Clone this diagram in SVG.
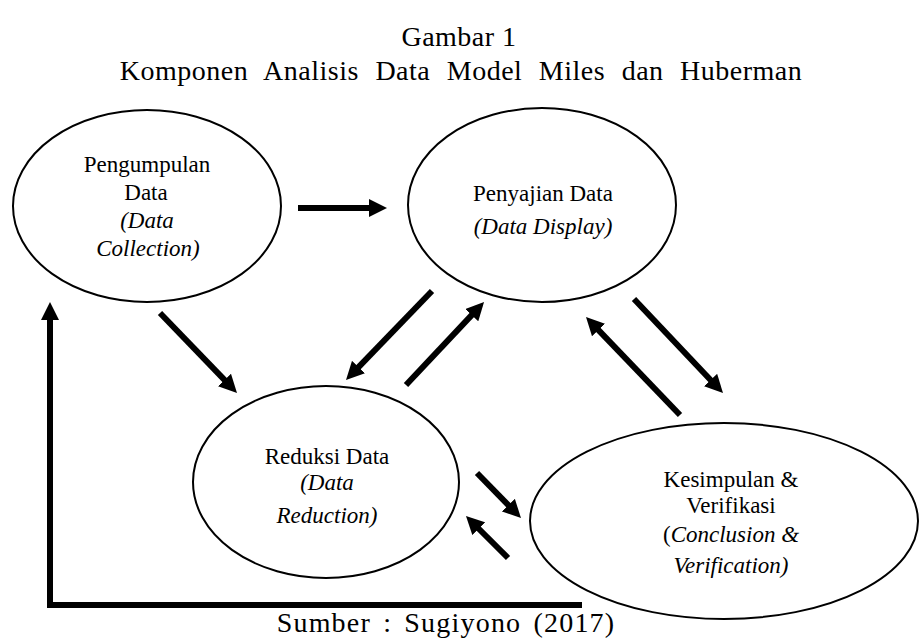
<svg xmlns="http://www.w3.org/2000/svg" width="920" height="638" viewBox="0 0 920 638">
<defs>
<marker id="ah" viewBox="0 0 18 18" markerWidth="18" markerHeight="18" markerUnits="userSpaceOnUse" refX="1" refY="9" orient="auto">
<path d="M0,0 L18,9 L0,18 z" fill="#000"/>
</marker>
<style>
.node{fill:#fff;stroke:#000;stroke-width:2}
.t{font-family:"Liberation Serif","Times New Roman",serif;font-size:23px;fill:#000;text-anchor:middle}
.i{font-style:italic}
.title{font-family:"Liberation Serif","Times New Roman",serif;font-size:28px;fill:#000;text-anchor:middle}
.arr{stroke:#000;stroke-width:6;fill:none;marker-end:url(#ah)}
</style>
</defs>
<rect width="920" height="638" fill="#fff"/>
<text class="title" x="459" y="46" font-size="26" letter-spacing="0.5">Gambar 1</text>
<text class="title" x="461" y="80" word-spacing="9" letter-spacing="0.5">Komponen Analisis  Data Model Miles dan Huberman</text>
<g id="n1">
<ellipse class="node" cx="147" cy="206" rx="134" ry="96"/>
<text class="t" x="147" y="172">Pengumpulan</text>
<text class="t" x="146" y="200">Data</text>
<text class="t i" x="147" y="228">(Data</text>
<text class="t i" x="148" y="256">Collection)</text>
</g>
<g id="n2">
<ellipse class="node" cx="542" cy="205" rx="134" ry="97"/>
<text class="t" x="543" y="201">Penyajian Data</text>
<text class="t i" x="543" y="234">(Data Display)</text>
</g>
<g id="n3">
<ellipse class="node" cx="326" cy="482" rx="133" ry="96"/>
<text class="t" x="327" y="464">Reduksi Data</text>
<text class="t i" x="327" y="490">(Data</text>
<text class="t i" x="327" y="523">Reduction)</text>
</g>
<g id="n4">
<ellipse class="node" cx="724" cy="521" rx="194" ry="98"/>
<text class="t" x="731" y="487">Kesimpulan &amp;</text>
<text class="t" x="731" y="513">Verifikasi</text>
<text class="t" x="731" y="542">(<tspan font-style="italic">Conclusion &amp;</tspan></text>
<text class="t i" x="731" y="573">Verification)</text>
</g>
<g id="connectors">
<line class="arr" x1="298" y1="208" x2="370" y2="208"/>
<line class="arr" x1="160" y1="313" x2="225.2" y2="380.7"/>
<line class="arr" x1="432" y1="291" x2="357.8" y2="367.8"/>
<line class="arr" x1="406" y1="385" x2="472.4" y2="314.4"/>
<line class="arr" x1="680" y1="415" x2="597.8" y2="329.3"/>
<line class="arr" x1="634" y1="299" x2="711.3" y2="380.7"/>
<line class="arr" x1="477" y1="473" x2="509.1" y2="505.8"/>
<line class="arr" x1="508" y1="558" x2="478" y2="528"/>
<polyline class="arr" points="582,605 50,605 50,319" stroke-linejoin="miter"/>
</g>
<text class="title" x="446" y="632" font-size="30" word-spacing="4" letter-spacing="1.2">Sumber : Sugiyono  (2017)</text>
</svg>
